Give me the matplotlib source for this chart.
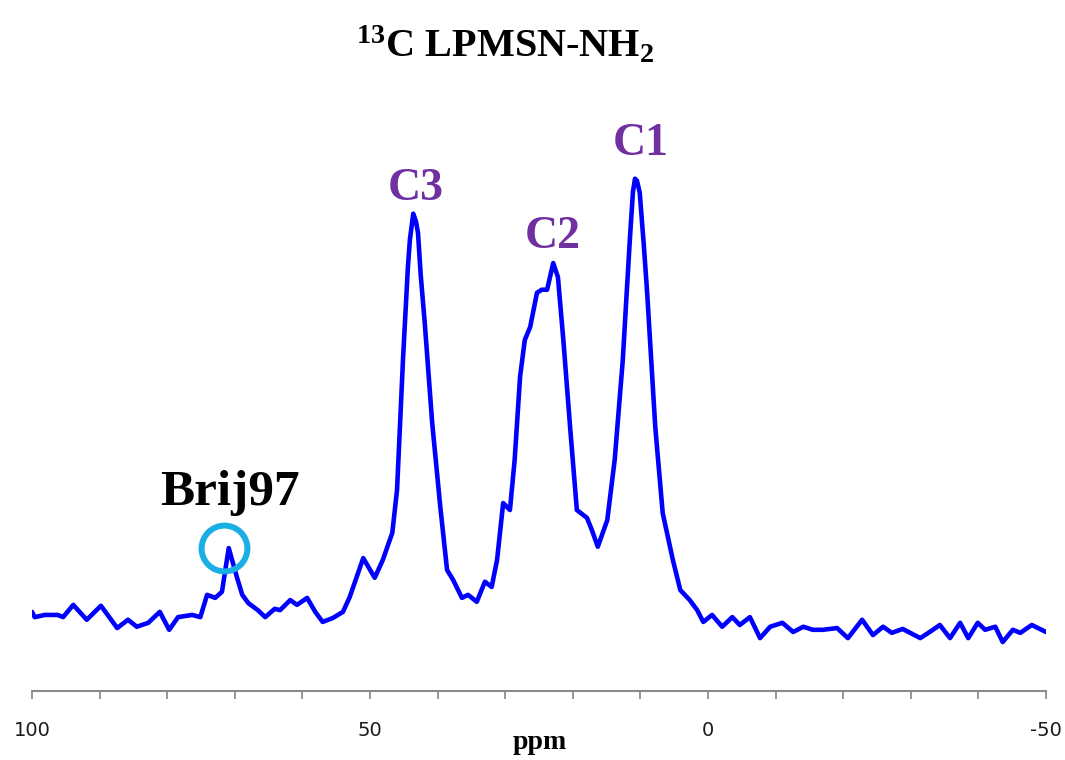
import numpy as np
import matplotlib.pyplot as plt

# 13C NMR spectrum (ppm, arbitrary intensity)
ppm = [100.0, 99.6, 98.1, 96.2, 95.4, 93.9, 91.9, 89.8, 87.4, 85.8,
       84.5, 82.8, 81.1, 79.7, 78.4, 76.3, 75.1, 74.1, 72.9, 71.9,
       70.9, 69.7, 68.9, 68.0, 66.6, 65.5, 64.1, 63.3, 61.8, 60.8,
       59.3, 58.1, 57.0, 55.5, 54.0, 53.0, 51.0, 49.3, 48.1, 46.7,
       46.0, 45.1, 44.4, 44.1, 43.6, 43.2, 42.9, 42.5, 41.9, 40.8,
       39.6, 38.6, 37.7, 36.4, 35.5, 34.2, 33.0, 32.0, 31.2, 30.3,
       29.3, 28.6, 27.8, 27.1, 26.3, 25.3, 24.6, 23.8, 22.9, 22.2,
       21.4, 20.4, 19.4, 17.9, 17.2, 16.3, 14.9, 13.8, 12.6, 12.0,
       11.5, 11.1, 10.8, 10.5, 10.1, 9.5, 9.0, 7.8, 6.7, 5.2,
       4.1, 2.7, 1.6, 0.7, -0.6, -2.1, -3.6, -4.7, -6.2, -7.7,
       -9.2, -11.0, -12.6, -14.1, -15.5, -17.0, -19.1, -20.7, -22.8, -24.4,
       -25.9, -27.2, -28.8, -31.4, -32.8, -34.3, -35.8, -37.3, -38.5, -39.9,
       -41.0, -42.5, -43.6, -45.1, -46.2, -47.9, -50.0]
intensity = [0.7, -0.5, 0.0, 0.0, -0.5, 2.3, -1.1, 2.1, -3.0, -1.1,
             -2.7, -1.8, 0.7, -3.4, -0.5, 0.0, -0.5, 4.6, 3.9, 5.3,
             15.3, 8.7, 4.6, 2.7, 1.1, -0.5, 1.4, 1.1, 3.4, 2.3,
             3.9, 0.7, -1.6, -0.7, 0.7, 4.1, 13.0, 8.5, 12.6, 18.8,
             28.6, 59.0, 79.4, 85.8, 91.8, 90.0, 87.4, 77.8, 66.8, 43.9,
             24.7, 10.3, 8.0, 3.9, 4.6, 3.0, 7.6, 6.4, 12.6, 25.6,
             24.0, 35.5, 54.5, 62.9, 65.9, 73.7, 74.4, 74.4, 80.5, 77.3,
             62.9, 43.0, 24.0, 22.2, 19.5, 15.6, 21.7, 35.5, 58.4, 74.4,
             87.4, 96.8, 99.8, 99.3, 96.6, 84.7, 73.7, 43.0, 23.3, 12.6,
             5.7, 3.4, 1.1, -1.6, 0.0, -2.7, -0.5, -2.3, -0.5, -5.3,
             -2.7, -1.8, -3.9, -2.7, -3.4, -3.4, -3.0, -5.3, -1.1, -4.6,
             -2.7, -4.1, -3.2, -5.3, -3.9, -2.3, -5.3, -1.8, -5.3, -1.8,
             -3.4, -2.7, -6.2, -3.4, -4.1, -2.3, -3.9]

peak_labels = ['C3', 'C2', 'C1']
peak_pos = [(43.2, 95.0), (22.9, 84.0), (9.9, 105.3)]
brij_label = 'Brij97'
brij_peak = (71.6, 15.3)

tick_vals = np.arange(100, -51, -10)
tick_text = ['100', '', '', '', '', '50', '', '', '', '', '0', '', '', '', '', '-50']

plt.rcParams['mathtext.fontset'] = 'custom'
plt.rcParams['mathtext.rm'] = 'Liberation Serif:bold'
plt.rcParams['mathtext.it'] = 'Liberation Serif:bold'

fig = plt.figure(figsize=(10.65, 7.6), dpi=100)
ax = fig.add_axes([0.03005, 0.0908, 0.9521, 0.7776])

ax.plot(ppm, intensity, color='#0000FF', lw=3.3, solid_joinstyle='round',
        solid_capstyle='round')

ax.set_xlim(100, -50)
ax.set_ylim(-17.4, 117.8)

for s in ['top', 'left', 'right']:
    ax.spines[s].set_visible(False)
ax.spines['bottom'].set_color('#8c8c8c')
ax.spines['bottom'].set_linewidth(1.5)
ax.set_yticks([])
ax.set_xticks(tick_vals)
ax.set_xticklabels(tick_text)
ax.tick_params(axis='x', direction='out', length=5.5, width=1.3, color='#8c8c8c',
               labelsize=14, labelcolor='#1a1a1a', pad=16)

for lab, (x, y) in zip(peak_labels, peak_pos):
    ax.text(x, y, lab, ha='center', va='baseline', fontsize=33, fontweight='bold',
            family='Liberation Serif', color='#7030A0')

ax.text(70.7, 25.2, brij_label, ha='center', va='baseline', fontsize=37,
        fontweight='bold', family='Liberation Serif', color='black')
ax.plot([brij_peak[0]], [brij_peak[1]], marker='o', ms=33, mfc='none',
        mec='#19AEE4', mew=4.3)

fig.text(0.474, 0.925, r'$^{13}$C LPMSN-NH$_2$', ha='center', va='baseline',
         fontsize=29, fontweight='bold', family='Liberation Serif')
fig.text(0.507, 0.014, 'ppm', ha='center', va='baseline', fontsize=20,
         fontweight='bold', family='Liberation Serif')

fig.savefig('out.png', dpi=100)
